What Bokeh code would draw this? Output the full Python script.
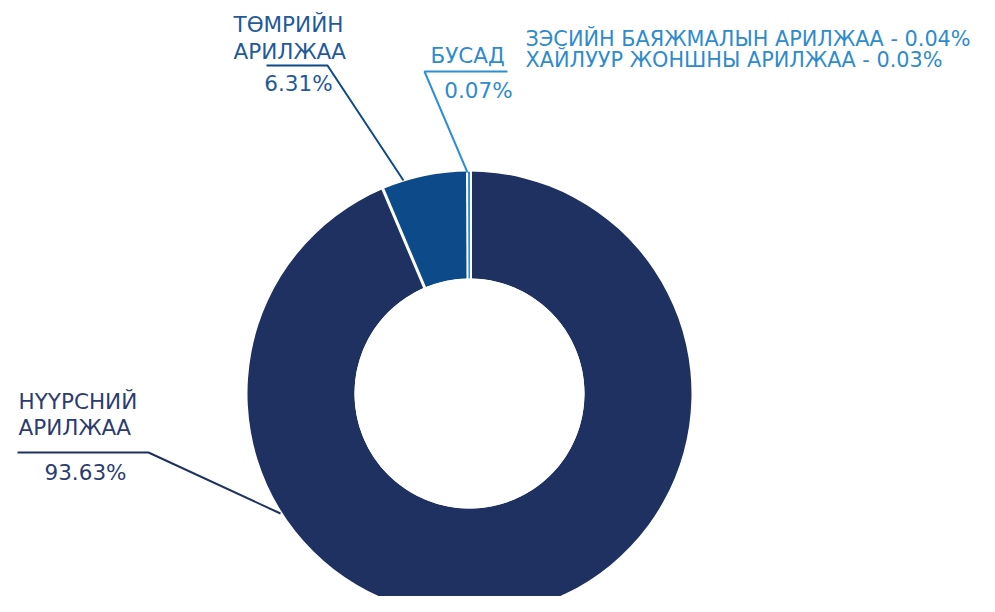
import numpy as np
from bokeh.plotting import figure
from bokeh.models import Range1d
from bokeh.core.properties import value
from bokeh.embed import file_html
from bokeh.resources import INLINE

# ---- data ----
categories = ["НҮҮРСНИЙ АРИЛЖАА", "ТӨМРИЙН АРИЛЖАА", "БУСАД"]
shares = [93.63, 6.31, 0.07]
other_names = ["ЗЭСИЙН БАЯЖМАЛЫН АРИЛЖАА", "ХАЙЛУУР ЖОНШНЫ АРИЛЖАА"]
other_shares = [0.04, 0.03]

# ---- styles ----
slice_colors = ["#1F3160", "#0C4A89", "#2F8FD4"]
label_colors = ["#2D3C6E", "#1F5A99", "#2F8BCB"]
FONT = value("DejaVu Sans")
FS = "21.5px"
DY = 8.5  # text vertical correction

W, H = 979, 596
p = figure(width=W, height=H, x_range=Range1d(0, W), y_range=Range1d(612 - H, 612),
           output_backend="svg", toolbar_location=None, min_border=0,
           x_axis_type=None, y_axis_type=None)
p.grid.visible = False
p.outline_line_color = None
p.background_fill_color = "white"
p.border_fill_color = "white"

def Y(sy):
    return 612 - sy

cx, cy = 469, Y(393)
r_out, r_in = 222, 115

fr = np.array(shares) / np.sum(shares)
cum = np.concatenate([[0.0], np.cumsum(fr)])
start = np.pi / 2 - 2 * np.pi * cum[1:]
end = np.pi / 2 - 2 * np.pi * cum[:-1]

p.annular_wedge(x=cx, y=cy, inner_radius=r_in, outer_radius=r_out,
                start_angle=list(start), end_angle=list(end),
                fill_color=slice_colors, line_color=None)
# white separators
p.ray(x=[cx] * 3, y=[cy] * 3, length=r_out + 1, angle=list(start),
      line_color="white", line_width=[3, 5, 5])
# make the tiny slice visible
p.annular_wedge(x=cx, y=cy, inner_radius=r_in, outer_radius=r_out - 0.5,
                start_angle=start[2], end_angle=end[2],
                fill_color=slice_colors[2], line_color=slice_colors[2], line_width=1)
# re-cover the hole
p.circle(x=cx, y=cy, radius=r_in, fill_color="white", line_color=None)

# ---- leader lines ----
p.line(x=[17, 148, 280], y=[Y(452), Y(452), Y(513)], line_color=slice_colors[0], line_width=2)
p.line(x=[266, 327, 403], y=[Y(65), Y(65), Y(180)], line_color=slice_colors[1], line_width=2)
p.line(x=[507, 424, 467], y=[Y(71), Y(71), Y(172)], line_color=slice_colors[2], line_width=2)

def txt(x, y, s, color, align="left", fs=FS):
    p.text(x=[x], y=[Y(y - DY)], text=[s], text_font=FONT, text_font_size=fs,
           text_color=color, text_align=align, text_baseline="alphabetic")

# НҮҮРСНИЙ
n0 = categories[0].split(" ")
txt(18, 409, n0[0], label_colors[0])
txt(18, 435, n0[1], label_colors[0])
txt(85, 480, f"{shares[0]:.2f}%", label_colors[0], "center")
# ТӨМРИЙН
n1 = categories[1].split(" ")
txt(233, 32, n1[0], label_colors[1])
txt(233, 59, n1[1], label_colors[1])
txt(298, 91, f"{shares[1]:.2f}%", label_colors[1], "center")
# БУСАД
txt(430, 63, categories[2], label_colors[2])
txt(478, 98, f"{shares[2]:.2f}%", label_colors[2], "center")
# others
txt(525, 47, f"{other_names[0]} - {other_shares[0]:.2f}%", label_colors[2], fs="20.8px")
txt(525, 68, f"{other_names[1]} - {other_shares[1]:.2f}%", label_colors[2], fs="20.8px")

open("out.html", "w").write(file_html(p, INLINE))
